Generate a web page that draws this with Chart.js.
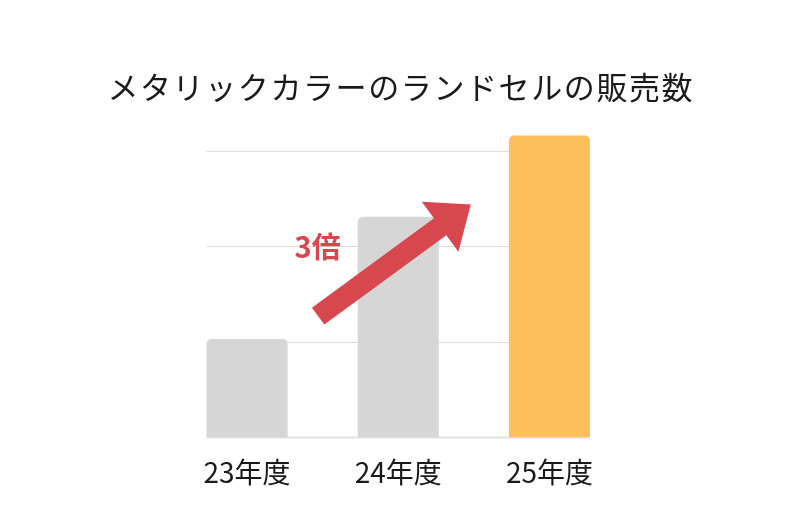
<!DOCTYPE html>
<html>
<head>
<meta charset="utf-8">
<script src="https://cdn.jsdelivr.net/npm/chart.js@4.4.1/dist/chart.umd.min.js"></script>
<style>
  html, body { margin: 0; padding: 0; background: #fff; }
  #chart { display: block; }
</style>
</head>
<body>
<canvas id="chart" width="800" height="522"></canvas>
<script>
// data
const years = ['23年度', '24年度', '25年度'];
const sales = [1.03, 2.31, 3.16];
const barColors = ['#d6d6d6', '#d6d6d6', '#fdbe5b'];

const titleText = 'メタリックカラーのランドセルの販売数';
const arrowLabel = '3倍';
const jpFont = "'Noto Sans CJK JP', 'Noto Sans', sans-serif";

// gridlines only across the bars (not the full chart area)
const shortGrid = {
  id: 'shortGrid',
  beforeDatasetsDraw(chart) {
    const ctx = chart.ctx;
    const y = chart.scales.y;
    const bars = chart.getDatasetMeta(0).data;
    const left = bars[0].x - bars[0].width / 2;
    const right = bars[bars.length - 1].x + bars[bars.length - 1].width / 2;
    ctx.save();
    y.ticks.filter(t => Number.isInteger(t.value)).forEach(t => {
      const py = Math.round(y.getPixelForValue(t.value)) + 0.5;
      ctx.strokeStyle = t.value === 0 ? '#e2e2e2' : '#dcdcdc';
      ctx.lineWidth = t.value === 0 ? 2 : 1;
      ctx.beginPath();
      ctx.moveTo(left, py);
      ctx.lineTo(right, py);
      ctx.stroke();
    });
    ctx.restore();
  }
};

// red "3倍" arrow, placed in data space
const growthArrow = {
  id: 'growthArrow',
  afterDatasetsDraw(chart) {
    const ctx = chart.ctx;
    const { x, y } = chart.scales;
    const from = { x: x.getPixelForValue(0.47), y: y.getPixelForValue(1.27) };
    const tip = { x: x.getPixelForValue(1.48), y: y.getPixelForValue(2.44) };
    const len = Math.hypot(tip.x - from.x, tip.y - from.y);
    const dx = (tip.x - from.x) / len, dy = (tip.y - from.y) / len;
    const nx = -dy, ny = dx;
    const shaft = 10.5, head = 31, headLen = 38;
    const bx = tip.x - dx * headLen, by = tip.y - dy * headLen;

    ctx.save();
    ctx.fillStyle = '#d7474e';
    ctx.beginPath();
    ctx.moveTo(from.x + nx * shaft, from.y + ny * shaft);
    ctx.lineTo(bx + nx * shaft, by + ny * shaft);
    ctx.lineTo(bx + nx * head, by + ny * head);
    ctx.lineTo(tip.x, tip.y);
    ctx.lineTo(bx - nx * head, by - ny * head);
    ctx.lineTo(bx - nx * shaft, by - ny * shaft);
    ctx.lineTo(from.x - nx * shaft, from.y - ny * shaft);
    ctx.closePath();
    ctx.fill();

    ctx.font = 'bold 29px ' + jpFont;
    ctx.textAlign = 'center';
    ctx.textBaseline = 'middle';
    ctx.fillText(arrowLabel, x.getPixelForValue(0.467), y.getPixelForValue(1.99));
    ctx.restore();
  }
};

// title drawn by hand: Chart.js would squeeze it to the plot width
const wideTitle = {
  id: 'wideTitle',
  afterDraw(chart) {
    const ctx = chart.ctx;
    const spacing = 1.6;
    ctx.save();
    ctx.font = '31px ' + jpFont;
    ctx.letterSpacing = spacing + 'px';
    ctx.fillStyle = '#1a1a1a';
    ctx.textAlign = 'center';
    ctx.textBaseline = 'middle';
    ctx.fillText(titleText, chart.width / 2 + spacing / 2, 87);
    ctx.restore();
  }
};

new Chart(document.getElementById('chart'), {
  type: 'bar',
  data: {
    labels: years,
    datasets: [{
      data: sales,
      backgroundColor: barColors,
      borderRadius: 5,
      barPercentage: 0.536,
      categoryPercentage: 1
    }]
  },
  options: {
    responsive: false,
    animation: false,
    layout: { padding: { left: 171.5, right: 175, top: 131.8, bottom: 15 } },
    plugins: {
      legend: { display: false },
      tooltip: { enabled: false },
      title: { display: false }
    },
    scales: {
      x: {
        grid: { display: false, drawTicks: false },
        border: { display: false },
        ticks: {
          color: '#1a1a1a',
          padding: 18,
          font: { family: jpFont, size: 28 }
        }
      },
      y: {
        display: false,
        min: 0,
        max: 3.2,
        ticks: { stepSize: 1 }
      }
    }
  },
  plugins: [shortGrid, growthArrow, wideTitle]
});
</script>
</body>
</html>
